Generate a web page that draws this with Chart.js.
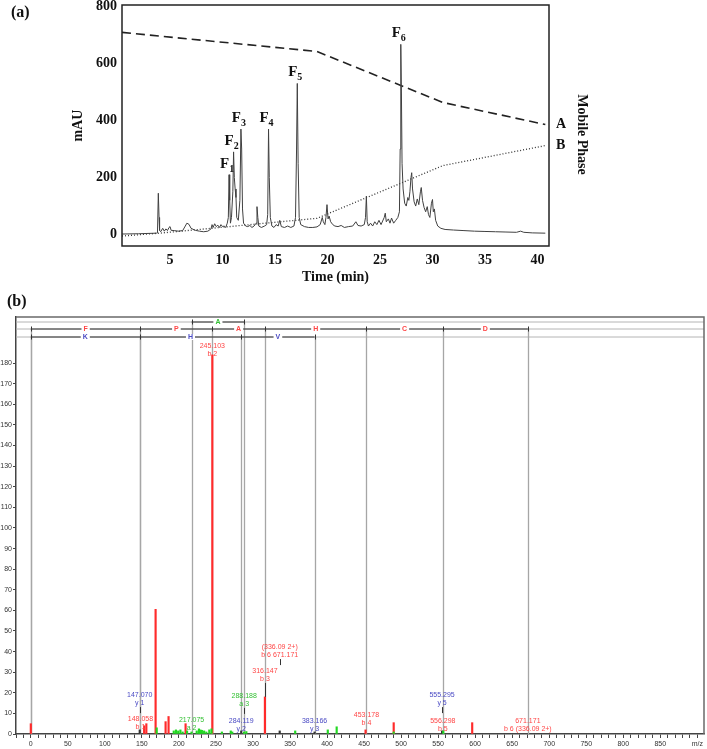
<!DOCTYPE html>
<html>
<head>
<meta charset="utf-8">
<script src="https://cdn.jsdelivr.net/npm/chart.js@4.4.1/dist/chart.umd.min.js"></script>
<style>
  body { margin: 0; background: #fff; width: 707px; height: 749px; position: relative; overflow: hidden; }
  canvas { position: absolute; left: 0; }
  #hplc { top: 0; }
  #msms { top: 290px; }
</style>
</head>
<body>
<canvas id="hplc" width="707" height="290"></canvas>
<canvas id="msms" width="707" height="459"></canvas>
<script>
// ---- (a) HPLC chromatogram ----
var chromTime = [
  0.42, 2, 3.7, 3.8, 3.88, 3.95, 4.0, 4.1, 4.3, 4.45,
  4.6, 4.75, 4.9, 5.0, 5.1, 5.4, 5.8, 6.2, 6.45, 6.6,
  6.8, 7.0, 7.4, 7.8, 8.2, 8.6, 8.9, 9.0, 9.1, 9.25,
  9.4, 9.55, 9.7, 9.85, 10.0, 10.15, 10.3, 10.45, 10.55, 10.62,
  10.68, 10.75, 10.85, 10.98, 11.05, 11.12, 11.2, 11.28, 11.35, 11.5,
  11.65, 11.75, 11.82, 11.9, 12.0, 12.2, 12.4, 12.6, 12.8, 13.0,
  13.2, 13.28, 13.36, 13.45, 13.7, 14.0, 14.2, 14.3, 14.38, 14.45,
  14.55, 14.7, 14.9, 15.1, 15.3, 15.45, 15.6, 15.9, 16.2, 16.5,
  16.8, 16.95, 17.05, 17.12, 17.2, 17.3, 17.45, 17.8, 18.2, 18.6,
  19.0, 19.3, 19.5, 19.6, 19.75, 19.85, 19.95, 20.05, 20.15, 20.3,
  20.5, 20.7, 21.0, 21.3, 21.6, 22.0, 22.4, 22.7, 22.9, 23.2,
  23.5, 23.62, 23.7, 23.78, 23.9, 24.1, 24.3, 24.5, 24.7, 24.9,
  25.1, 25.4, 25.5, 25.6, 25.8, 25.95, 26.1, 26.3, 26.5, 26.7,
  26.85, 26.92, 26.98, 27.04, 27.1, 27.2, 27.35, 27.5, 27.65, 27.75,
  27.85, 27.95, 28.02, 28.1, 28.25, 28.4, 28.55, 28.7, 28.85, 28.93,
  29.05, 29.2, 29.35, 29.5, 29.62, 29.75, 29.9, 30.0, 30.08, 30.18,
  30.3, 30.5, 30.8, 31.2, 32, 33, 34, 35, 36, 37,
  38, 38.4, 38.7, 39.5, 40.75
];
var chromAbs = [
  2, 3, 5, 6, 145, 60, 15, 10, 22, 12,
  20, 14, 25, 28, 15, 14, 12, 14, 30, 40,
  36, 22, 15, 12, 10, 12, 20, 35, 25, 38,
  28, 33, 25, 35, 28, 30, 25, 40, 60, 210,
  120, 40, 60, 150, 290, 200, 160, 130, 60, 50,
  120, 370, 300, 90, 40, 30, 28, 32, 25, 30,
  40, 98, 60, 30, 25, 30, 35, 70, 370, 200,
  60, 30, 25, 35, 30, 50, 28, 25, 30, 25,
  30, 60, 300, 530, 250, 60, 35, 28, 25, 25,
  27, 35, 60, 45, 35, 60, 105, 55, 65, 45,
  35, 30, 28, 32, 25, 28, 30, 45, 32, 30,
  35, 60, 135, 45, 30, 40, 30, 45, 35, 50,
  35, 60, 75, 45, 55, 40, 58, 40, 50, 60,
  80, 300, 667, 500, 250, 160, 110, 100, 130, 120,
  150, 200, 217, 160, 115, 100, 125, 105, 150, 165,
  120, 95, 80, 98, 70, 60, 110, 123, 80, 90,
  50, 30, 22, 18, 16, 14, 12, 11, 10, 9,
  8, 12, 8, 6, 5
];
var phaseATime = [0.42, 19, 31, 40.75];
var phaseAVal = [709, 642, 463, 386];
var phaseBTime = [0.42, 4, 19, 31, 40.75];
var phaseBVal = [-5, 5, 57, 242, 312];
var peakNames = ['1', '2', '3', '4', '5', '6'];
var peakTime = [10.62, 11.05, 11.75, 14.38, 17.12, 26.98];
var peakAbs = [210, 290, 370, 370, 530, 667];
var xTicksA = [5, 10, 15, 20, 25, 30, 35, 40];
var yTicksA = [0, 200, 400, 600, 800];

// ---- (b) MS/MS spectrum ----
var redMz = [0, 153, 156, 168.5, 182, 186, 209, 245.1, 316.1, 452, 490, 596];
var redInt = [5, 4, 5, 60.5, 6, 8.5, 5, 184, 18, 2, 5.5, 5.5];
var greenMz = [170, 193, 196, 199, 202, 205, 211, 217, 224, 227, 229, 231, 234, 237, 241, 244, 258, 270, 272, 288, 291, 357, 401, 413, 490, 557];
var greenInt = [3, 1.5, 2, 1.5, 2, 1, 1.5, 1, 1.5, 2.5, 2, 1.8, 1.5, 1, 2, 2.5, 1, 1.5, 1, 1, 1.2, 1.5, 2, 3.5, 1, 1.5];
var darkMz = [147.07, 284.12, 336.09, 383.17, 555.3];
var darkInt = [2, 1.5, 1.5, 1, 1.5];

var annMz = [147.07, 148.058, 217.075, 288.188, 284.119, 316.147, 336.09, 383.166, 453.178, 555.295, 556.298, 671.171, 245.103];
var annLevel = [15, 3.4, 2.9, 14.6, 2.4, 26.7, 38.3, 2.4, 5.3, 15, 2.4, 2.4, 184.5];
var annTop = ['147.070', '148.058', '217.075', '288.188', '284.119', '316.147', '(336.09 2+)', '383.166', '453.178', '555.295', '556.298', '671.171', '245.103'];
var annBottom = ['y 1', 'b 1', 'a 2', 'a 3', 'y 2', 'b 3', 'b 6 671.171', 'y 3', 'b 4', 'y 5', 'b 5', 'b 6 (336.09 2+)', 'b 2'];
var annType = ['y', 'b', 'a', 'a', 'y', 'b', 'b', 'y', 'b', 'y', 'b', 'b', 'b'];

var aIons = [217.075, 288.188];
var aRes = ['A'];
var bIons = [0, 148.058, 245.103, 316.147, 453.178, 556.298, 671.171];
var bRes = ['F', 'P', 'A', 'H', 'C', 'D'];
var yIons = [0, 147.070, 284.119, 383.166];
var yRes = ['K', 'H', 'V'];

var xLabelsB = [0, 50, 100, 150, 200, 250, 300, 350, 400, 450, 500, 550, 600, 650, 700, 750, 800, 850];
var yLabelsB = [0, 10, 20, 30, 40, 50, 60, 70, 80, 90, 100, 110, 120, 130, 140, 150, 160, 170, 180];

var ionColor = { a: '#35c035', b: '#ff4545', y: '#4a4ac4' };

function pts(xs, ys) {
  return xs.map(function (x, i) { return { x: x, y: ys[i] }; });
}

function noScalePad(s) {
  s.paddingTop = 0;
  s.paddingBottom = 0;
  s.paddingLeft = 0;
  s.paddingRight = 0;
}

var serif = 'Liberation Serif';
var sans = 'Liberation Sans';

var hplcDecor = {
  id: 'hplcDecor',
  afterDraw: function (chart) {
    var ctx = chart.ctx, a = chart.chartArea, xs = chart.scales.x, ys = chart.scales.y;
    ctx.save();
    ctx.strokeStyle = '#222';
    ctx.lineWidth = 1.5;
    ctx.strokeRect(a.left, a.top, a.right - a.left, a.bottom - a.top);

    ctx.fillStyle = '#111';
    ctx.textBaseline = 'alphabetic';
    ctx.textAlign = 'left';
    for (var i = 0; i < peakNames.length; i++) {
      var px = xs.getPixelForValue(peakTime[i]) - 2;
      var py = ys.getPixelForValue(peakAbs[i]) - 7;
      ctx.font = 'bold 15px "' + serif + '"';
      var wF = ctx.measureText('F').width;
      ctx.font = 'bold 10px "' + serif + '"';
      var wS = ctx.measureText(peakNames[i]).width;
      var x0 = px - (wF + wS) / 2;
      ctx.font = 'bold 15px "' + serif + '"';
      ctx.fillText('F', x0, py);
      ctx.font = 'bold 10px "' + serif + '"';
      ctx.fillText(peakNames[i], x0 + wF, py + 4);
    }

    ctx.font = 'bold 14px "' + serif + '"';
    ctx.textBaseline = 'middle';
    ctx.fillText('A', a.right + 7, ys.getPixelForValue(phaseAVal[phaseAVal.length - 1]));
    ctx.fillText('B', a.right + 7, ys.getPixelForValue(phaseBVal[phaseBVal.length - 1]));

    ctx.font = 'bold 16px "' + serif + '"';
    ctx.fillText('(a)', 11, 13);

    ctx.translate(a.right + 33, (a.top + a.bottom) / 2 + 9);
    ctx.rotate(Math.PI / 2);
    ctx.textAlign = 'center';
    ctx.font = 'bold 14px "' + serif + '"';
    ctx.fillText('Mobile Phase', 0, 0);
    ctx.restore();
  }
};

new Chart('hplc', {
  type: 'line',
  data: {
    datasets: [{
      data: pts(chromTime, chromAbs),
      borderColor: '#404040',
      borderWidth: 1,
      pointRadius: 0
    }, {
      data: pts(phaseATime, phaseAVal),
      borderColor: '#222',
      borderWidth: 1.6,
      borderDash: [9, 5],
      pointRadius: 0
    }, {
      data: pts(phaseBTime, phaseBVal),
      borderColor: '#333',
      borderWidth: 1.3,
      borderDash: [1, 2],
      pointRadius: 0
    }]
  },
  options: {
    responsive: false,
    animation: false,
    devicePixelRatio: 1,
    layout: { padding: { left: 0, top: 5, right: 158, bottom: 0 } },
    plugins: { legend: { display: false }, tooltip: { enabled: false } },
    scales: {
      x: {
        type: 'linear', min: 0.42, max: 41.1,
        grid: { display: false, drawTicks: false },
        border: { display: false },
        afterBuildTicks: function (s) { s.ticks = xTicksA.map(function (v) { return { value: v }; }); },
        ticks: { autoSkip: false, maxRotation: 0, padding: 6, color: '#111', font: { family: serif, size: 14, weight: 'bold' } },
        title: { display: true, text: 'Time (min)', color: '#111', font: { family: serif, size: 14, weight: 'bold' }, padding: { top: 0, bottom: 4 } },
        afterFit: function (s) { s.height = 44; noScalePad(s); }
      },
      y: {
        min: -40, max: 805,
        grid: { display: false, drawTicks: false },
        border: { display: false },
        afterBuildTicks: function (s) { s.ticks = yTicksA.map(function (v) { return { value: v }; }); },
        ticks: { padding: 5, color: '#111', font: { family: serif, size: 14, weight: 'bold' } },
        title: { display: true, text: 'mAU', color: '#111', font: { family: serif, size: 14, weight: 'bold' }, padding: { top: 70, bottom: 0 } },
        afterFit: function (s) { s.width = 122; noScalePad(s); }
      }
    }
  },
  plugins: [hplcDecor]
});

var ladderRows = [
  { ions: aIons, res: aRes, color: ionColor.a, dy: 5 },
  { ions: bIons, res: bRes, color: ionColor.b, dy: 12 },
  { ions: yIons, res: yRes, color: ionColor.y, dy: 20 }
];

function peakAt(mz) {
  var best = 0;
  [[redMz, redInt], [greenMz, greenInt], [darkMz, darkInt]].forEach(function (s) {
    s[0].forEach(function (m, i) { if (Math.abs(m - mz) < 1.5 && s[1][i] > best) best = s[1][i]; });
  });
  return best;
}

var msDecor = {
  id: 'msDecor',
  beforeDatasetsDraw: function (chart) {
    var ctx = chart.ctx, a = chart.chartArea, xs = chart.scales.x;
    ctx.save();
    // row guide lines
    ctx.strokeStyle = '#b4b4b4';
    ctx.lineWidth = 1;
    ladderRows.forEach(function (r) {
      ctx.beginPath();
      ctx.moveTo(a.left, a.top + r.dy);
      ctx.lineTo(a.right, a.top + r.dy);
      ctx.stroke();
    });
    // fragment lines
    ctx.strokeStyle = '#a6a6a6';
    ctx.lineWidth = 1.3;
    ladderRows.forEach(function (r) {
      r.ions.forEach(function (m) {
        var x = Math.round(xs.getPixelForValue(m)) + 0.5;
        ctx.beginPath();
        ctx.moveTo(x, a.top + r.dy);
        ctx.lineTo(x, a.bottom);
        ctx.stroke();
      });
    });
    ctx.restore();
  },
  afterDraw: function (chart) {
    var ctx = chart.ctx, a = chart.chartArea, xs = chart.scales.x, ys = chart.scales.y;
    ctx.save();
    // frame
    ctx.strokeStyle = '#6a6a6a';
    ctx.lineWidth = 1.5;
    ctx.beginPath();
    ctx.moveTo(a.left, a.top);
    ctx.lineTo(a.right, a.top);
    ctx.lineTo(a.right, a.bottom);
    ctx.stroke();

    // sequence ladders
    ctx.font = 'bold 7px "' + sans + '"';
    ctx.textAlign = 'center';
    ctx.textBaseline = 'middle';
    ladderRows.forEach(function (r) {
      var y = a.top + r.dy;
      ctx.strokeStyle = '#333';
      ctx.lineWidth = 1;
      ctx.beginPath();
      ctx.moveTo(xs.getPixelForValue(r.ions[0]), y);
      ctx.lineTo(xs.getPixelForValue(r.ions[r.ions.length - 1]), y);
      ctx.stroke();
      r.ions.forEach(function (m) {
        var x = Math.round(xs.getPixelForValue(m)) + 0.5;
        ctx.beginPath();
        ctx.moveTo(x, y - 2.5);
        ctx.lineTo(x, y + 2.5);
        ctx.stroke();
      });
      r.res.forEach(function (t, i) {
        var xm = (xs.getPixelForValue(r.ions[i]) + xs.getPixelForValue(r.ions[i + 1])) / 2;
        var w = ctx.measureText(t).width + 4;
        ctx.fillStyle = '#fff';
        ctx.fillRect(xm - w / 2, y - 3, w, 6);
        ctx.fillStyle = r.color;
        ctx.fillText(t, xm, y + 0.5);
      });
    });

    // peak annotations
    ctx.font = '7px "' + sans + '"';
    annMz.forEach(function (m, i) {
      var x = xs.getPixelForValue(m);
      var yb = ys.getPixelForValue(annLevel[i]);
      ctx.fillStyle = ionColor[annType[i]];
      ctx.fillText(annTop[i], x, yb - 8);
      ctx.fillText(annBottom[i], x, yb);
      var top = ys.getPixelForValue(peakAt(m));
      var start = yb + 4;
      if (top - start > 4) {
        var end = (top - start < 16) ? top : start + 6;
        ctx.strokeStyle = '#333';
        ctx.lineWidth = 1;
        ctx.beginPath();
        ctx.moveTo(Math.round(x) + 0.5, start);
        ctx.lineTo(Math.round(x) + 0.5, end);
        ctx.stroke();
      }
    });

    ctx.fillStyle = '#111';
    ctx.textAlign = 'left';
    ctx.font = 'bold 16px "' + serif + '"';
    ctx.fillText('(b)', 7, 12);
    ctx.restore();
  }
};

new Chart('msms', {
  type: 'bar',
  data: {
    datasets: [{
      data: pts(greenMz, greenInt),
      backgroundColor: '#22d822'
    }, {
      data: pts(darkMz, darkInt),
      backgroundColor: '#333'
    }, {
      data: pts(redMz, redInt),
      backgroundColor: '#ff2b2b'
    }]
  },
  options: {
    responsive: false,
    animation: false,
    devicePixelRatio: 1,
    grouped: false,
    barThickness: 1.5,
    layout: { padding: { left: 0, top: 27, right: 3, bottom: 0 } },
    plugins: { legend: { display: false }, tooltip: { enabled: false } },
    scales: {
      x: {
        type: 'linear', min: -20, max: 909, offset: false,
        grid: { display: true, drawOnChartArea: false, drawTicks: true, tickLength: 4, color: '#444', offset: false },
        border: { display: true, color: '#444', width: 1.5 },
        afterBuildTicks: function (s) {
          s.ticks = [];
          for (var v = -20; v <= 900; v += 10) s.ticks.push({ value: v });
        },
        ticks: {
          autoSkip: false, maxRotation: 0, padding: 2, color: '#333',
          font: { family: sans, size: 7 },
          callback: function (v) {
            if (v === 900) return 'm/z';
            return xLabelsB.indexOf(v) >= 0 ? String(v) : '';
          }
        },
        afterFit: function (s) { s.height = 15; noScalePad(s); }
      },
      y: {
        min: 0, max: 202.4,
        grid: { display: true, drawOnChartArea: false, drawTicks: true, tickLength: 3, color: '#444' },
        border: { display: true, color: '#444', width: 1.5 },
        afterBuildTicks: function (s) {
          s.ticks = [];
          for (var v = 0; v <= 185; v += 5) s.ticks.push({ value: v });
        },
        ticks: {
          padding: 1, color: '#333',
          font: { family: sans, size: 7 },
          callback: function (v) { return yLabelsB.indexOf(v) >= 0 ? String(v) : ''; }
        },
        afterFit: function (s) { s.width = 16; noScalePad(s); }
      }
    }
  },
  plugins: [msDecor]
});
</script>
</body>
</html>
